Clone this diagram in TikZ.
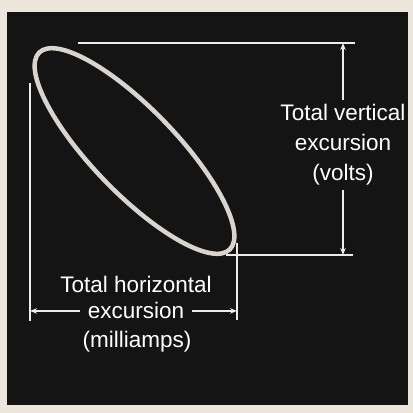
\documentclass[tikz,border=0pt]{standalone}
\usepackage{fontspec}
\setmainfont{Liberation Sans}
\usetikzlibrary{arrows.meta}
\definecolor{paper}{HTML}{ECE6DD}
\definecolor{screen}{HTML}{141414}
\definecolor{trace}{HTML}{DAD4CE}
\definecolor{wline}{HTML}{ECECEC}
\tikzset{
  lbl/.style={text=white,font=\fontsize{22.5}{27}\selectfont,anchor=base},
  vlbl/.style={lbl,inner sep=4.5pt},
  hlbl/.style={lbl,inner xsep=7.5pt,inner ysep=3pt},
  ext/.style={draw=wline,line width=1.4pt},
  dim/.style={draw=wline,line width=1.4pt,-{Stealth[length=7pt,width=5.5pt]}}
}
\begin{document}
\begin{tikzpicture}[x=1pt,y=1pt]
\useasboundingbox (0,0) rectangle (413,413);
\fill[paper] (0,0) rectangle (413,413);
\fill[screen] (7,8) rectangle (408,401);
% trace ellipse
\draw[trace,line width=4.5pt,rotate around={-46:(134.5,262)}] (134.5,262) ellipse [x radius=137, y radius=42];
% extension lines
\coordinate (lvt) at (30,330); \coordinate (lvb) at (30,92);
\coordinate (rvt) at (237,170); \coordinate (rvb) at (237,93);
\coordinate (tht) at (78,370); \coordinate (thr) at (355,370);
\coordinate (bhl) at (226,158); \coordinate (bhr) at (353,158);
\draw[ext] (lvt) -- (lvb);
\draw[ext] (rvt) -- (rvb);
\draw[ext] (tht) -- (thr);
\draw[ext] (bhl) -- (bhr);
% vertical label
\node[vlbl] (vt) at (343,292) {Total vertical};
\node[vlbl] (ve) at (343,262) {excursion};
\node[vlbl] (vv) at (343,232) {(volts)};
\coordinate (vtop) at (343,370);
\coordinate (vbot) at (343,158);
\draw[dim] (vt.north) -- (vtop);
\draw[dim] (vv.south) -- (vbot);
% horizontal label
\node[hlbl] (ht) at (136,120) {Total horizontal};
\node[hlbl] (he) at (136,94) {excursion};
\node[hlbl] (hm) at (137,65) {(milliamps)};
\draw[dim] (he.west) -- (he.west -| lvt);
\draw[dim] (he.east) -- (he.east -| rvt);
\end{tikzpicture}
\end{document}
